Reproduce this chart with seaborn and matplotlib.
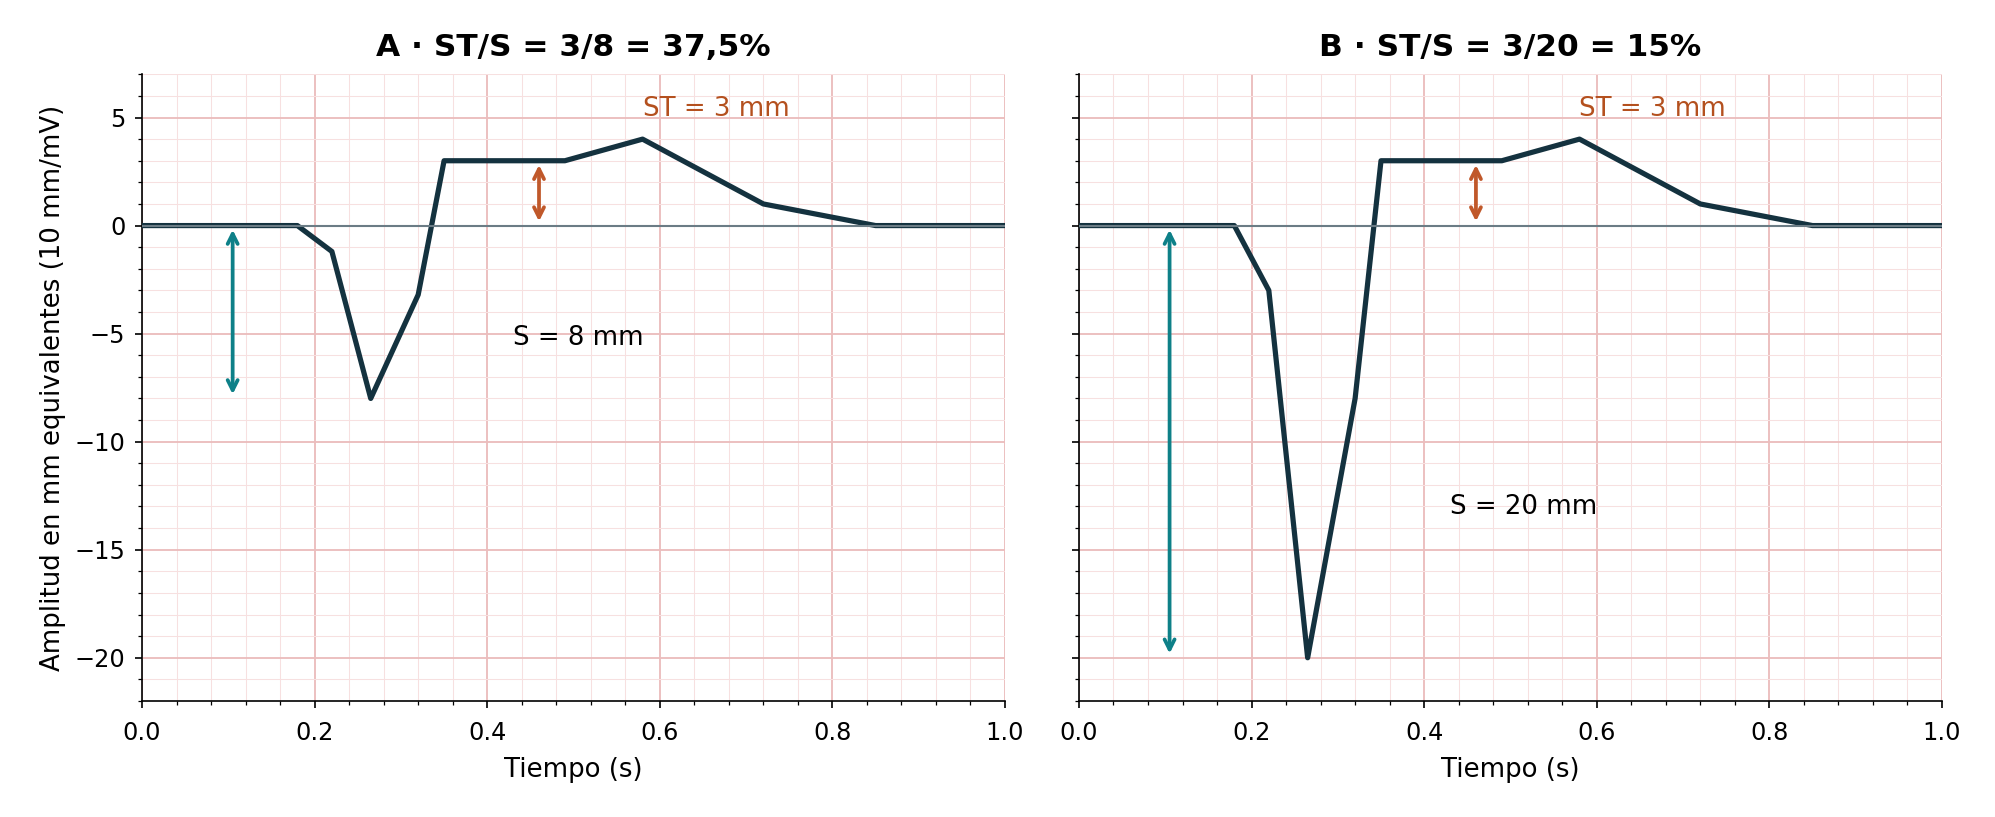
import numpy as np
import pandas as pd
import seaborn as sns
import matplotlib.pyplot as plt
from matplotlib.ticker import MultipleLocator

# ECG-like traces (time in s, amplitude in mm)
t = [0.0, 0.18, 0.22, 0.265, 0.32, 0.35, 0.49, 0.58, 0.72, 0.85, 1.0]
amp_a = [0, 0, -1.2, -8, -3.2, 3, 3, 4, 1, 0, 0]
amp_b = [0, 0, -3, -20, -8, 3, 3, 4, 1, 0, 0]

panel_titles = ["A · ST/S = 3/8 = 37,5%", "B · ST/S = 3/20 = 15%"]
st_mm = [3, 3]
s_mm = [8, 20]

sns.set_style("ticks", {"axes.edgecolor": "black", "xtick.color": "black",
                        "ytick.color": "black", "text.color": "black",
                        "axes.labelcolor": "black"})
plt.rcParams["font.family"] = ["DejaVu Sans"]

trace_color = "#14323f"
teal = "#0e8088"
orange = "#c0582a"

fig, axes = plt.subplots(1, 2, figsize=(13.3, 5.447), dpi=150, sharey=True)
fig.subplots_adjust(left=0.0712, right=0.9734, top=0.909, bottom=0.142, wspace=0.0857)

for ax, amp, title, st, s in zip(axes, [amp_a, amp_b], panel_titles, st_mm, s_mm):
    df = pd.DataFrame({"t": t, "amp": amp})
    ax.set_xlim(0, 1)
    ax.set_ylim(-22, 7)
    ax.xaxis.set_major_locator(MultipleLocator(0.2))
    ax.xaxis.set_minor_locator(MultipleLocator(0.04))
    ax.yaxis.set_major_locator(MultipleLocator(5))
    ax.yaxis.set_minor_locator(MultipleLocator(1))
    ax.grid(which="minor", color="#f7e0e0", linewidth=0.5, zorder=0)
    ax.grid(which="major", color="#ebbdbd", linewidth=0.9, zorder=0)
    ax.set_axisbelow(True)

    sns.lineplot(data=df, x="t", y="amp", ax=ax, color=trace_color, linewidth=2.5,
                 sort=False, zorder=3)
    ax.axhline(0, color="#6b7c85", linewidth=1.0, zorder=4)

    # S depth arrow
    ax.annotate("", xy=(0.105, 0), xytext=(0.105, -s),
                arrowprops=dict(arrowstyle="<->", color=teal, lw=1.8,
                                mutation_scale=12), zorder=5)
    # ST elevation arrow
    ax.annotate("", xy=(0.46, 0), xytext=(0.46, st),
                arrowprops=dict(arrowstyle="<->", color=orange, lw=1.8,
                                mutation_scale=12), zorder=5)
    ax.text(0.58, 5.4, f"ST = {st} mm", color="#b4501e", fontsize=12.5,
            ha="left", va="center")
    ax.text(0.43, -s * 0.65, f"S = {s} mm", color="black", fontsize=12.5,
            ha="left", va="center")

    ax.set_title(title, fontsize=15, fontweight="bold", pad=9)
    ax.set_xlabel("Tiempo (s)", fontsize=12.5, labelpad=6)
    ax.tick_params(axis="both", labelsize=11.5)
    ax.tick_params(axis="x", which="major", pad=6)
    ax.tick_params(axis="y", which="major", pad=4.5)
    sns.despine(ax=ax)

axes[0].set_ylabel("Amplitud en mm equivalentes (10 mm/mV)", fontsize=12.5)
axes[1].set_ylabel("")

fig.savefig("out.png", dpi=150)
